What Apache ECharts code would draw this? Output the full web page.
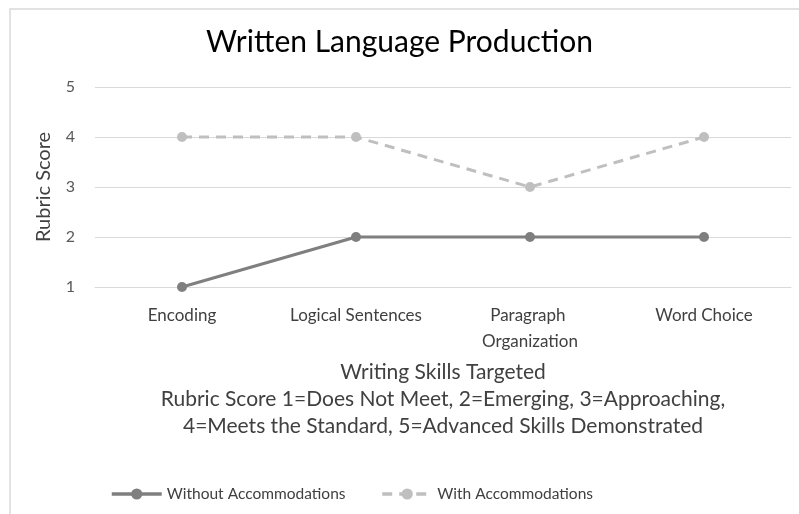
<!DOCTYPE html>
<html>
<head>
<meta charset="utf-8">
<script src="https://cdn.jsdelivr.net/npm/echarts@6/dist/echarts.min.js"></script>
<style>
  html, body { margin: 0; padding: 0; background: #fff; }
  #main { width: 799px; height: 514px; }
</style>
</head>
<body>
<div id="main"></div>
<script>
// data
var skills = ['Encoding', 'Logical Sentences', 'Paragraph Organization', 'Word Choice'];
var withoutAcc = [1, 2, 2, 2];
var withAcc = [4, 4, 3, 4];
var scoreTicks = [1, 2, 3, 4, 5];

var FONT = 'Lato';

var myChart = echarts.init(document.getElementById('main'));

var option = {
    backgroundColor: '#fff',
    textStyle: { fontFamily: FONT },
    animation: false,
    title: {
        text: 'Written Language Production',
        left: 'center',
        top: 22,
        textStyle: { fontFamily: FONT, fontSize: 30, fontWeight: 'normal', color: '#000' }
    },
    graphic: [
        {   // chart area border (only top and left show in the crop)
            type: 'rect',
            shape: { x: 10, y: 9, width: 820, height: 540 },
            style: { fill: 'none', stroke: '#d9d9d9', lineWidth: 1.5 },
            silent: true
        }
    ],
    legend: {
        bottom: 7,
        left: 105,
        itemWidth: 50,
        itemHeight: 14,
        itemGap: 35,
        lineStyle: { width: 3.5 },
        textStyle: { fontFamily: FONT, fontSize: 15.5, color: '#404040' },
        data: ['Without Accommodations', 'With Accommodations']
    },
    grid: { left: 95, right: 8, top: 87, bottom: 227 },
    xAxis: {
        type: 'category',
        data: skills,
        boundaryGap: true,
        axisLine: { show: true, lineStyle: { color: '#d9d9d9', width: 1 } },
        axisTick: { show: false },
        axisLabel: {
            interval: 0,
            margin: 16,
            fontFamily: FONT,
            fontSize: 17,
            color: '#404040',
            width: 165,
            overflow: 'break',
            lineHeight: 26
        },
        name: 'Writing Skills Targeted\nRubric Score 1=Does Not Meet, 2=Emerging, 3=Approaching,\n4=Meets the Standard, 5=Advanced Skills Demonstrated',
        nameLocation: 'middle',
        nameGap: 72,
        nameTextStyle: {
            fontFamily: FONT,
            fontSize: 21,
            color: '#404040',
            lineHeight: 27,
            verticalAlign: 'top'
        }
    },
    yAxis: {
        type: 'value',
        min: 1,
        max: 5,
        interval: 1,
        axisLine: { show: false },
        axisTick: { show: false },
        splitLine: { lineStyle: { color: '#d9d9d9', width: 1 } },
        axisLabel: {
            margin: 20,
            fontFamily: FONT,
            fontSize: 16,
            color: '#595959',
            formatter: function (v) { return scoreTicks.indexOf(v) >= 0 ? String(v) : ''; }
        },
        name: 'Rubric Score',
        nameLocation: 'middle',
        nameGap: 41,
        nameRotate: 90,
        nameTextStyle: { fontFamily: FONT, fontSize: 20, color: '#404040' }
    },
    series: [
        {
            name: 'Without Accommodations',
            type: 'line',
            data: withoutAcc,
            symbol: 'circle',
            symbolSize: 10,
            lineStyle: { color: '#7f7f7f', width: 3 },
            itemStyle: { color: '#7f7f7f' },
            z: 3
        },
        {
            name: 'With Accommodations',
            type: 'line',
            data: withAcc,
            symbol: 'circle',
            symbolSize: 10,
            lineStyle: { color: '#bfbfbf', width: 3, type: [10, 7] },
            itemStyle: { color: '#bfbfbf' },
            z: 2
        }
    ]
};

myChart.setOption(option);
</script>
</body>
</html>
